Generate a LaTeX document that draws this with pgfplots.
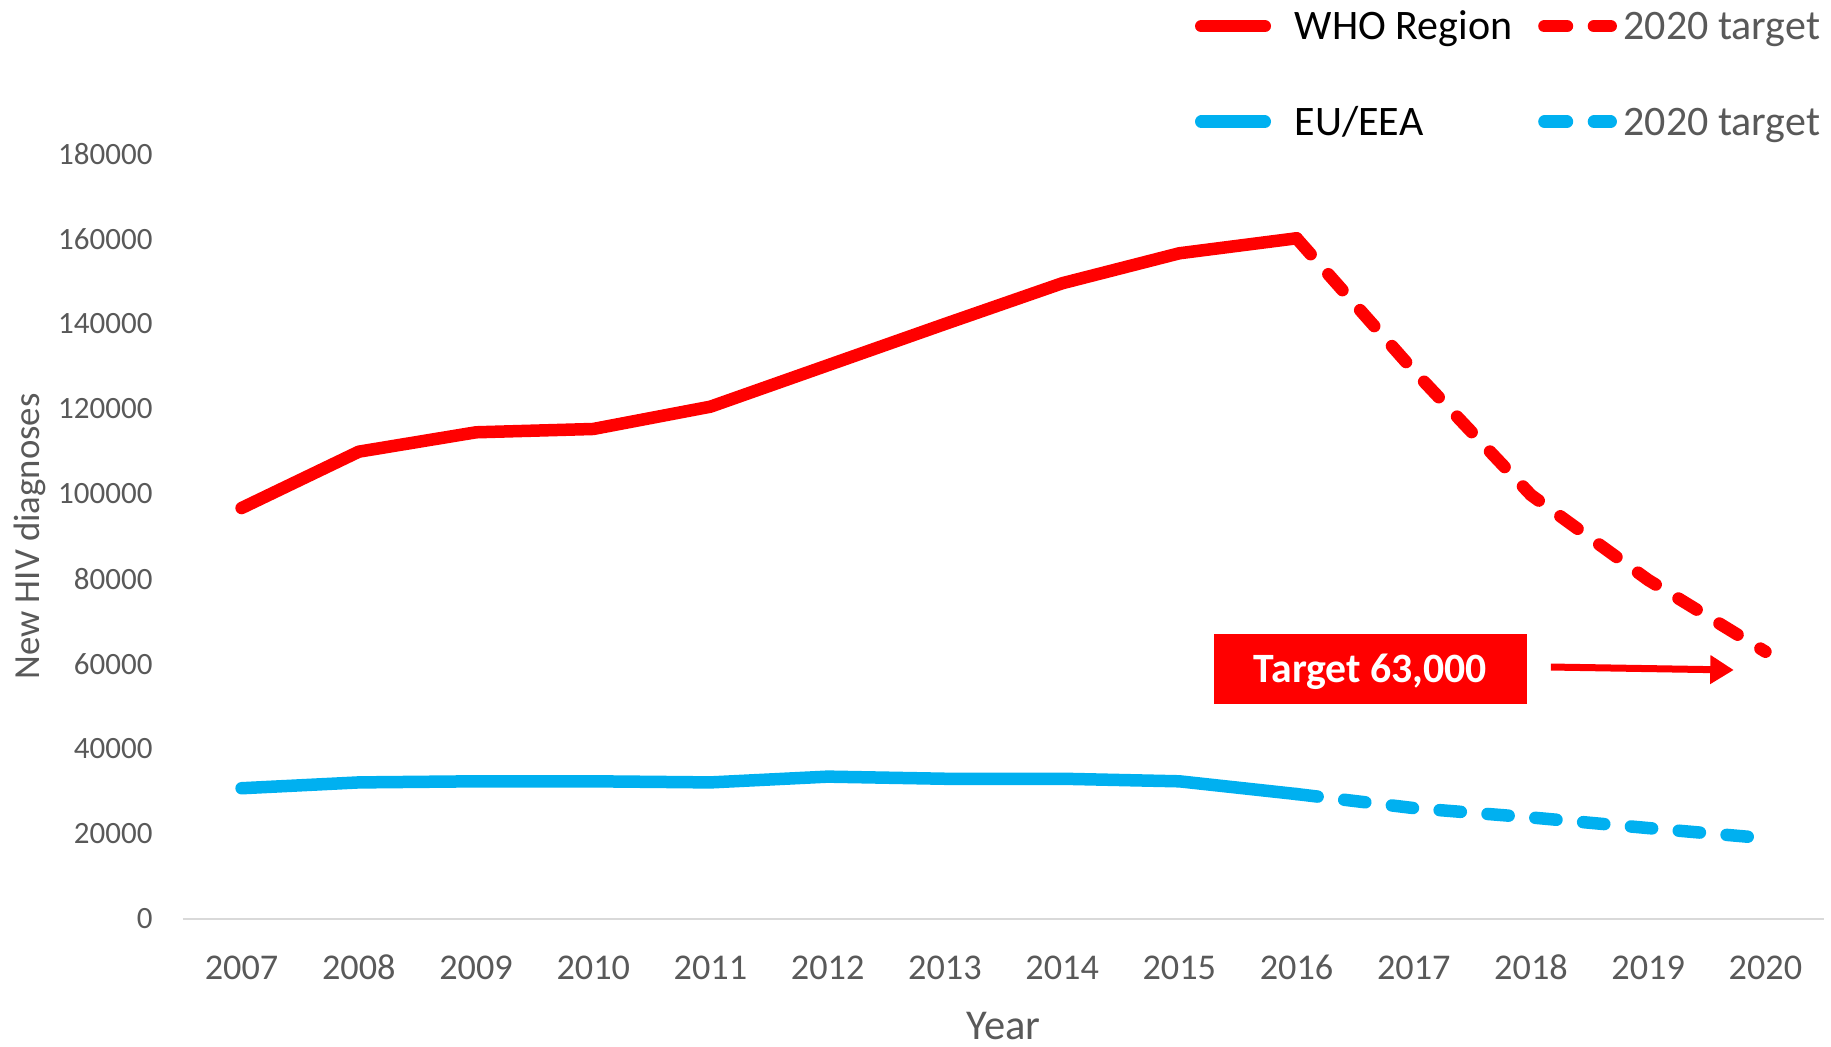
\documentclass[border=0pt]{standalone}
\usepackage{pgfplots}
\pgfplotsset{compat=1.18}
\usepackage{fontspec}
\setmainfont{Carlito}
\usetikzlibrary{arrows.meta}
\definecolor{whored}{HTML}{FF0000}
\definecolor{eublue}{HTML}{00B0F0}
\definecolor{txtgray}{HTML}{595959}
\definecolor{axgray}{HTML}{D9D9D9}
\pgfplotsset{
  solidleg/.style={legend image code/.code={\draw[##1] (2.5pt,0pt) -- (27.9pt,0pt); \path (0pt,-3pt) (37.4pt,3pt);}},
  dashleg/.style={legend image code/.code={\draw[##1, dash pattern=on 9pt off 10.8pt] (2.5pt,0pt) -- (29pt,0pt); \path (0pt,-3pt) (31.6pt,3pt);}},
}
\begin{document}
\begin{tikzpicture}
\useasboundingbox (-73.2pt,-50.8pt) rectangle (659.2pt,367.6pt);
\begin{axis}[
  at={(0,0)}, anchor=south west,
  scale only axis, width=656.4pt, height=306pt,
  xmin=2006.5, xmax=2020.5, ymin=0, ymax=180000,
  clip=false, scaled y ticks=false, scaled x ticks=false,
  axis x line*=bottom, axis y line*=left,
  x axis line style={draw=axgray, line width=0.8pt, -},
  y axis line style={draw=none},
  tick style={draw=none}, major tick length=0pt,
  xtick={2007,2008,2009,2010,2011,2012,2013,2014,2015,2016,2017,2018,2019,2020},
  xticklabels={2007,2008,2009,2010,2011,2012,2013,2014,2015,2016,2017,2018,2019,2020},
  ytick={0,20000,40000,60000,80000,100000,120000,140000,160000,180000},
  yticklabels={0,20000,40000,60000,80000,100000,120000,140000,160000,180000},
  xticklabel style={anchor=base, inner sep=0pt, yshift=-24pt, text=txtgray, font=\fontsize{14.5}{16}\selectfont},
  yticklabel style={anchor=east, inner sep=0pt, xshift=-12pt, text=txtgray, font=\fontsize{12.4}{14}\selectfont},
  xlabel={Year},
  ylabel={New HIV diagnoses},
  xlabel style={at={(axis description cs:0.5,-0.157)}, anchor=base, inner sep=0pt, text=txtgray, font=\fontsize{17}{19}\selectfont},
  ylabel style={at={(axis description cs:-0.0875,0.5)}, anchor=base, inner sep=0pt, text=txtgray, font=\fontsize{14.7}{17}\selectfont},
  legend columns=2,
  legend style={at={(rel axis cs:0.6129,1.185)}, anchor=north west, draw=none, fill=none,
    inner sep=0pt, outer sep=0pt, row sep=27.2pt,
    nodes={inner sep=0pt, outer sep=0pt, text height=10.8pt, text depth=0pt, anchor=west},
    font=\fontsize{16.8}{19}\selectfont,
    /tikz/every even column/.append style={column sep=7.9pt}},
]
\addplot[whored, line width=5pt, line cap=round, line join=round, solidleg]
  coordinates {(2007,96700) (2008,109960) (2009,114520) (2010,115300) (2011,120550) (2012,130280) (2013,140000) (2014,149580) (2015,156640) (2016,160170)};
\addlegendentry{WHO Region}
\addplot[whored, line width=5pt, line cap=round, line join=round, dash pattern=on 8.5pt off 10.7pt, dashleg]
  coordinates {(2016,160170) (2017,129000) (2018,99770) (2019,79770) (2020,62900)};
\addlegendentry{\textcolor{txtgray}{2020 target}}
\addplot[eublue, line width=5pt, line cap=round, line join=round, solidleg]
  coordinates {(2007,30770) (2008,32140) (2009,32400) (2010,32400) (2011,32140) (2012,33500) (2013,33000) (2014,33000) (2015,32400) (2016,29400)};
\addlegendentry{EU/EEA}
\addplot[eublue, line width=5pt, line cap=round, line join=round, dash pattern=on 8.5pt off 10.7pt, dashleg]
  coordinates {(2016,29400) (2017,26100) (2018,23900) (2019,21400) (2020,19000)};
\addlegendentry{\textcolor{txtgray}{2020 target}}
\node[fill=whored, text=white, font=\bfseries\fontsize{16.7}{19}\selectfont, minimum width=125.2pt, minimum height=28pt, inner sep=0pt, text height=10.8pt, text depth=0pt]
  at (axis cs:2016.63,58830) {Target 63,000};
\draw[whored, line width=2.8pt, -{Triangle[length=9.4pt,width=11pt]}] (axis cs:2018.17,59290) -- (axis cs:2019.73,58590);
\end{axis}
\end{tikzpicture}
\end{document}
